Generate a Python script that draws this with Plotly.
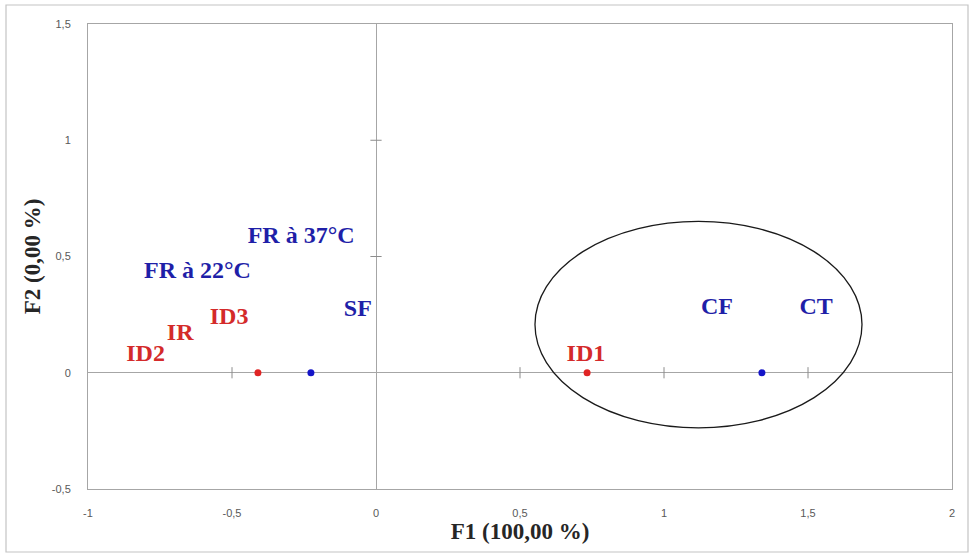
import plotly.graph_objects as go

# Data
point_x = [-0.41, -0.226, 0.733, 1.34]
point_y = [0, 0, 0, 0]
point_colors = ["#e02424", "#1414c8", "#e02424", "#1414c8"]

label_text = ["FR à 37°C", "FR à 22°C", "SF", "ID3", "IR", "ID2", "ID1", "CF", "CT"]
label_x = [-0.26, -0.62, -0.063, -0.51, -0.68, -0.80, 0.729, 1.184, 1.528]
label_y = [0.586, 0.435, 0.27, 0.237, 0.168, 0.078, 0.078, 0.28, 0.28]
label_colors = ["#1f1fa8", "#1f1fa8", "#1f1fa8", "#d42a2a", "#d42a2a", "#d42a2a", "#d42a2a", "#1f1fa8", "#1f1fa8"]

x_ticks = [-1, -0.5, 0, 0.5, 1, 1.5, 2]
x_ticktext = ["-1", "-0,5", "0", "0,5", "1", "1,5", "2"]
y_ticks = [-0.5, 0, 0.5, 1, 1.5]
y_ticktext = ["-0,5", "0", "0,5", "1", "1,5"]

# ellipse bounds (data units)
ell_x = [0.552, 1.6875]
ell_y = [-0.237, 0.651]

fig = go.Figure()

# tick marks on the zero lines
inner_x = [v for v in x_ticks if v not in (-1, 0, 2)]
inner_y = [v for v in y_ticks if v not in (-0.5, 0, 1.5)]
fig.add_trace(go.Scatter(x=inner_x, y=[0]*len(inner_x), mode="markers",
                         marker=dict(symbol="line-ns", size=8, line=dict(color="#8c8c8c", width=1)),
                         hoverinfo="skip", showlegend=False))
fig.add_trace(go.Scatter(x=[0]*len(inner_y), y=inner_y, mode="markers",
                         marker=dict(symbol="line-ew", size=8, line=dict(color="#8c8c8c", width=1)),
                         hoverinfo="skip", showlegend=False))

fig.add_trace(go.Scatter(x=point_x, y=point_y, mode="markers",
                         marker=dict(size=7, color=point_colors),
                         showlegend=False))

fig.add_trace(go.Scatter(x=label_x, y=label_y, mode="text", text=label_text,
                         textfont=dict(family="Liberation Serif", size=24, color=label_colors, weight="bold"),
                         textposition="middle center", showlegend=False, hoverinfo="skip"))

fig.add_shape(type="circle", xref="x", yref="y", x0=ell_x[0], x1=ell_x[1], y0=ell_y[0], y1=ell_y[1],
              line=dict(color="#1a1a1a", width=1.3))

# outer chart border
fig.add_shape(type="rect", xref="paper", yref="paper",
              x0=(6-88)/864, x1=(968-88)/864, y0=(489-552)/465, y1=(489-5)/465,
              line=dict(color="#c4c4c4", width=1.2), layer="below")

tickfont = dict(family="Liberation Sans", size=11, color="#595959")
titlefont = dict(family="Liberation Serif", size=23, color="#262626", weight="bold")

fig.update_layout(
    width=974, height=557,
    margin=dict(l=88, r=22, t=24, b=68, autoexpand=False),
    plot_bgcolor="white", paper_bgcolor="white",
    xaxis=dict(range=[-1, 2], tickvals=x_ticks, ticktext=x_ticktext, tickfont=tickfont,
               showgrid=False, zeroline=True, zerolinecolor="#a6a6a6", zerolinewidth=1,
               showline=True, mirror=True, linecolor="#a6a6a6", linewidth=1,
               ticks="", ticklabelstandoff=14,
               title=dict(text="F1 (100,00 %)", font=titlefont, standoff=2)),
    yaxis=dict(range=[-0.5, 1.5], tickvals=y_ticks, ticktext=y_ticktext, tickfont=tickfont,
               showgrid=False, zeroline=True, zerolinecolor="#a6a6a6", zerolinewidth=1,
               showline=True, mirror=True, linecolor="#a6a6a6", linewidth=1,
               ticks="", ticklabelstandoff=14,
               title=dict(text="F2 (0,00 %)", font=titlefont, standoff=4)),
)

fig.write_html("out.html")
